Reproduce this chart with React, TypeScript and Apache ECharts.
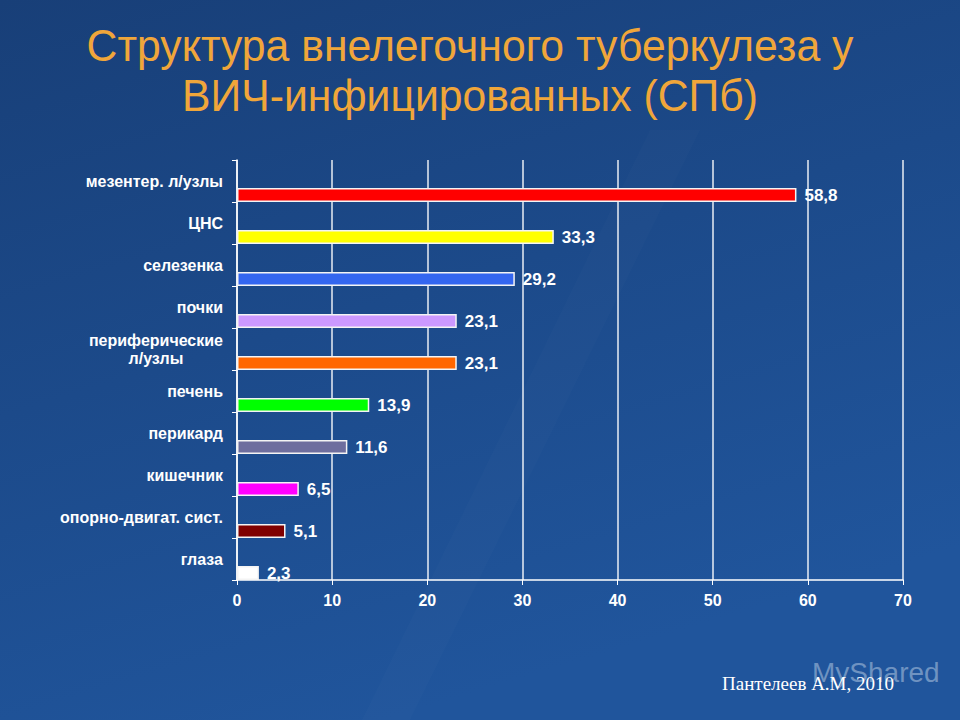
import React, { useEffect, useRef } from "react";
import * as echarts from "echarts";

const categories = [
  "мезентер. л/узлы",
  "ЦНС",
  "селезенка",
  "почки",
  "периферические\nл/узлы",
  "печень",
  "перикард",
  "кишечник",
  "опорно-двигат. сист.",
  "глаза",
];
const values = [58.8, 33.3, 29.2, 23.1, 23.1, 13.9, 11.6, 6.5, 5.1, 2.3];
const barColors = [
  "#FF0000",
  "#FFFF00",
  "#3366F0",
  "#CC99FF",
  "#FF6600",
  "#00FF00",
  "#6E6E9E",
  "#FF00FF",
  "#800000",
  "#FFFFFF",
];
const titleLines = ["Структура внелегочного туберкулеза у", "ВИЧ-инфицированных (СПб)"];
const footer = "Пантелеев А.М, 2010";

const SANS = "'Liberation Sans', Arial, sans-serif";

export default function App() {
  const ref = useRef<HTMLDivElement>(null);
  useEffect(() => {
    document.body.style.margin = "0";
    const chart = echarts.init(ref.current!, null, { renderer: "svg" });
    const option: any = {
      animation: false,
      backgroundColor: new echarts.graphic.LinearGradient(0, 0, 0.4, 1, [
        { offset: 0, color: "#183f78" },
        { offset: 0.5, color: "#1c4a8a" },
        { offset: 1, color: "#20559c" },
      ]),
      grid: { left: 237, right: 57, top: 160, bottom: 140 },
      graphic: [
        {
          type: "polygon",
          silent: true,
          shape: { points: [[650, 130], [700, 130], [410, 720], [362, 720]] },
          style: { fill: "rgba(255,255,255,0.015)" },
          z: -10,
        },
        {
          type: "text",
          x: 470,
          y: 45,
          scaleX: 0.95,
          style: {
            text: titleLines[0],
            fill: "#F0A63A",
            font: `45px ${SANS}`,
            textAlign: "center",
            textVerticalAlign: "middle",
          },
        },
        {
          type: "text",
          x: 470,
          y: 95,
          scaleX: 0.95,
          style: {
            text: titleLines[1],
            fill: "#F0A63A",
            font: `45px ${SANS}`,
            textAlign: "center",
            textVerticalAlign: "middle",
          },
        },
        {
          type: "text",
          left: 812,
          top: 658,
          style: {
            text: "MyShared",
            fill: "rgba(190,210,230,0.5)",
            font: `28px ${SANS}`,
          },
        },
        {
          type: "text",
          left: 722,
          top: 674,
          style: {
            text: footer,
            fill: "#FFFFFF",
            font: `19px 'Liberation Serif', 'Times New Roman', serif`,
          },
        },
      ],
      xAxis: {
        type: "value",
        min: 0,
        max: 70,
        interval: 10,
        axisLine: { show: true, lineStyle: { color: "#FFFFFF", width: 1.5 } },
        axisTick: { show: true, length: 5, lineStyle: { color: "#FFFFFF", width: 1 } },
        axisLabel: {
          color: "#FFFFFF",
          fontWeight: "bold",
          fontSize: 16,
          fontFamily: SANS,
          margin: 12,
        },
        splitLine: { show: true, lineStyle: { color: "rgba(255,255,255,0.9)", width: 1.5 } },
      },
      yAxis: {
        type: "category",
        inverse: true,
        data: categories,
        axisLine: { show: true, lineStyle: { color: "#FFFFFF", width: 1.5 } },
        axisTick: { show: true, length: 5, lineStyle: { color: "#FFFFFF", width: 1 } },
        axisLabel: {
          color: "#FFFFFF",
          fontWeight: "bold",
          fontSize: 16,
          fontFamily: SANS,
          margin: 14,
          lineHeight: 18,
          formatter: (v: string) =>
            v.includes("\n")
              ? v
                  .split("\n")
                  .map((s) => `{c|${s}}`)
                  .join("\n")
              : v,
          rich: {
            c: {
              align: "center",
              color: "#FFFFFF",
              fontWeight: "bold",
              fontSize: 16,
              fontFamily: SANS,
              lineHeight: 18,
            },
          },
        },
      },
      series: [
        {
          type: "bar",
          data: values.map(() => "-"),
          barWidth: 14,
          barGap: "100%",
          silent: true,
        },
        {
          type: "bar",
          data: values.map((v, i) => ({
            value: v,
            itemStyle: { color: barColors[i] },
          })),
          barWidth: 14,
          barGap: "100%",
          itemStyle: { borderColor: "#F4F4F4", borderWidth: 1.5 },
          label: {
            show: true,
            position: "right",
            distance: 8,
            color: "#FFFFFF",
            fontWeight: "bold",
            fontSize: 17,
            fontFamily: SANS,
            formatter: (p: any) => String(p.value).replace(".", ","),
          },
        },
      ],
    };
    chart.setOption(option);
    return () => chart.dispose();
  }, []);
  return (
    <div
      ref={ref}
      style={{ position: "absolute", left: 0, top: 0, width: 960, height: 720 }}
    />
  );
}
